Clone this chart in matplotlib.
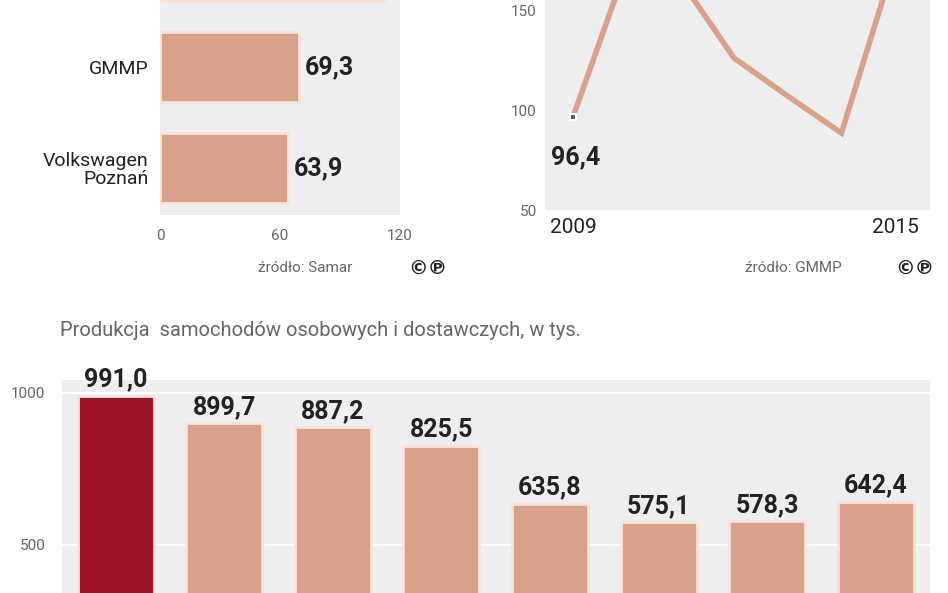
import matplotlib
matplotlib.use("Agg")
import matplotlib.pyplot as plt

plt.rcParams['font.family'] = ['Roboto', 'DejaVu Sans']

# data
hb_cats = ["Volkswagen\nPoznań", "GMMP", ""]
hb_vals = [63.9, 69.3, 112.0]
line_years = [2009, 2010, 2011, 2012, 2013, 2014, 2015]
line_vals = [96.4, 172, 165, 126, 107, 88.5, 175]
bar_years = [2008, 2009, 2010, 2011, 2012, 2013, 2014, 2015]
bar_vals = [991.0, 899.7, 887.2, 825.5, 635.8, 575.1, 578.3, 642.4]

W, H = 948, 593
SALMON = "#d9a08a"
DARK = "#a0122a"
PANEL = "#eeeeee"
TXT = "#222222"
GRAY = "#666666"

fig = plt.figure(figsize=(W/100, H/100), dpi=100)
fig.patch.set_facecolor("white")

def ax_px(l, t, r, b):
    return fig.add_axes([l/W, 1-b/H, (r-l)/W, (b-t)/H])

def fmt(v):
    return f"{v:.1f}".replace(".", ",")

# ---- top-left horizontal bars
ax1 = ax_px(160, 0, 400, 215)
ax1.set_facecolor(PANEL)
ax1.barh(range(3), hb_vals, height=0.69, color=SALMON, edgecolor="#f6e3da", linewidth=2)
for i, v in enumerate(hb_vals[:2]):
    ax1.text(v + 3, i, fmt(v), va="center", ha="left", fontsize=18, fontweight="bold", color=TXT)
ax1.set_yticks(range(3))
ax1.set_yticklabels(hb_cats, fontsize=14, color=TXT, linespacing=1.0)
ax1.set_xticks([0, 60, 120])
ax1.set_xticklabels(["0", "60", "120"], fontsize=11, color=GRAY)
ax1.tick_params(length=0, pad=10)
ax1.tick_params(axis='y', pad=8)
for s in ax1.spines.values():
    s.set_visible(False)
ax1.set_xlim(0, 120)
ax1.set_ylim(-0.465, 1.663)
ax1.set_autoscale_on(False)
fig.text(258/W, 1-268/H, "źródło: Samar", fontsize=11, color=GRAY, va="center")
fig.text(408/W, 1-268/H, "©℗", fontsize=14, color=TXT, va="center", fontweight="bold", family=['DejaVu Sans'])

# ---- top-right line
ax2 = ax_px(545, 0, 930, 210)
ax2.set_facecolor(PANEL)
ax2.plot(line_years, line_vals, color=SALMON, lw=4, solid_joinstyle="miter")
ax2.plot([line_years[0]], [line_vals[0]], marker="s", ms=5, color="#555555", mec="white", mew=1.5)
ax2.text(line_years[0] - 0.4, line_vals[0] - 20, fmt(line_vals[0]), fontsize=18, fontweight="bold", color=TXT, va="center")
ax2.set_yticks([50, 100, 150])
ax2.set_yticklabels(["50", "100", "150"], fontsize=11, color=GRAY)
ax2.set_xticks([2009, 2015])
ax2.set_xticklabels(["2009", "2015"], fontsize=15, color=TXT)
ax2.tick_params(length=0, pad=6)
for s in ax2.spines.values():
    s.set_visible(False)
ax2.set_xlim(2008.48, 2015.65)
ax2.set_ylim(50, 155)
fig.text(745/W, 1-268/H, "źródło: GMMP", fontsize=11, color=GRAY, va="center")
fig.text(895/W, 1-268/H, "©℗", fontsize=14, color=TXT, va="center", fontweight="bold", family=['DejaVu Sans'])

# ---- bottom bars
fig.text(60/W, 1-330/H, "Produkcja  samochodów osobowych i dostawczych, w tys.", fontsize=14.5, color=GRAY, va="center")
ax3 = ax_px(62, 380, 930, 593)
ax3.set_facecolor(PANEL)
xs = list(range(len(bar_vals)))
cols = [DARK] + [SALMON] * (len(bar_vals) - 1)
ax3.bar(xs, bar_vals, width=0.70, color=cols, edgecolor="#f6e3da", linewidth=2, zorder=3)
ax3.set_yticks([500, 1000])
ax3.set_yticklabels(["500", "1000"], fontsize=11, color=GRAY)
ax3.yaxis.grid(True, color="white", lw=1.5, zorder=1)
ax3.set_xticks([])
ax3.tick_params(length=0, pad=12)
for x, v in zip(xs, bar_vals):
    ax3.text(x, v + 14, fmt(v), ha="center", va="bottom", fontsize=18, fontweight="bold", color=TXT)
for s in ax3.spines.values():
    s.set_visible(False)
ax3.set_xlim(-0.494, 7.5)
ax3.set_ylim(342, 1042)

fig.savefig("out.png", dpi=100)
